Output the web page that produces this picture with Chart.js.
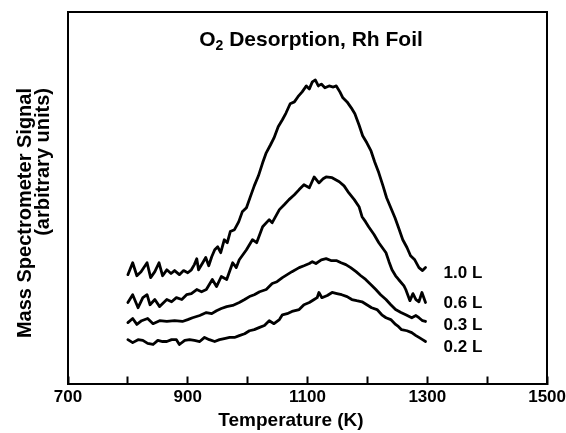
<!DOCTYPE html>
<html>
<head>
<meta charset="utf-8">
<script src="https://cdn.jsdelivr.net/npm/chart.js@4/dist/chart.umd.min.js"></script>
<style>
  html, body { margin:0; padding:0; background:#fff; }
  #wrap { width:566px; height:433px; }
</style>
</head>
<body>
<div id="wrap"><canvas id="chart" width="566" height="433"></canvas></div>
<script>
// ── Data (signal in arbitrary units 0-100) ──────────────────────────────
const temp10 = [800,808,815,822,832,838,845,852,858,865, 872,878,886,893,900,906,911,915,918,925,
                930,935,940,945,950,955,961,966,971,978, 985,991,998,1005,1011,1018,1025,1031,1038,1044,
                1051,1058,1064,1071,1078,1084,1091,1098,1103,1108, 1113,1118,1123,1129,1136,1143,1148,1154,1159,1166,
                1173,1179,1186,1192,1199,1206,1212,1219,1226,1232, 1239,1246,1252,1259,1266,1272,1279,1286,1292,1297];
const sig10  = [29.3,32.5,29.0,30.1,32.5,28.5,30.1,32.5,29.0,30.6, 29.6,30.4,29.3,30.4,29.8,30.6,32.0,33.6,30.6,32.5,
                33.9,31.7,34.1,36.0,36.8,35.2,38.7,37.9,40.9,41.4, 43.5,46.2,47.3,50.5,53.2,55.9,59.4,62.1,64.2,66.1,
                69.1,71.0,72.8,75.3,75.8,77.2,78.5,80.1,79.3,81.2, 81.7,80.1,80.6,79.6,80.1,79.8,80.1,78.5,76.9,75.8,
                74.2,72.6,69.6,66.7,64.8,62.6,59.7,56.7,53.2,50.0, 47.3,44.6,41.9,38.7,36.6,34.4,33.3,31.2,30.4,31.2];

const temp06 = [800,808,817,825,832,837,845,853,865,873, 881,890,898,906,915,923,931,941,948,956,
                965,975,981,986,998,1008,1015,1025,1036,1041, 1053,1061,1069,1078,1086,1094,1103,1111,1119,1126,
                1131,1141,1153,1161,1169,1178,1186,1191,1197,1202, 1211,1219,1231,1236,1241,1247,1252,1261,1264,1271,
                1276,1281,1286,1291,1297];
const sig06  = [21.8,23.9,20.4,23.1,23.9,21.2,22.6,20.7,22.6,22.0, 23.1,22.6,23.9,24.2,25.3,24.7,25.3,28.0,26.1,28.8,
                28.0,32.5,31.2,33.3,36.0,38.7,37.9,42.2,44.1,43.3, 46.8,48.1,49.5,50.8,52.2,53.5,52.7,55.6,54.0,55.1,
                55.6,55.4,54.3,53.2,51.3,49.5,47.6,44.9,43.5,42.2, 40.1,37.9,35.2,32.8,30.6,29.0,28.0,26.3,25.3,22.3,
                24.2,22.6,22.0,24.5,21.8];

const temp03 = [800,808,815,823,833,842,853,865,878,891, 900,908,920,931,940,948,956,965,975,986,
                995,1003,1011,1020,1031,1041,1049,1058,1066,1074, 1086,1094,1103,1108,1114,1123,1131,1139,1148,1156,
                1164,1172,1181,1189,1197,1206,1214,1222,1231,1239, 1247,1256,1264,1274,1281,1286,1292,1297];
const sig03  = [16.4,17.5,15.9,16.9,17.5,16.1,16.9,16.7,16.9,16.7, 17.2,17.7,18.3,19.1,18.8,19.6,20.2,20.7,21.0,21.8,
                22.6,23.4,23.9,24.7,25.3,26.9,27.4,28.5,29.3,30.1, 31.2,31.7,32.3,32.8,32.3,33.3,33.6,33.1,33.1,32.5,
                32.0,31.2,30.1,29.0,28.0,26.6,25.3,23.9,22.6,21.2, 19.9,19.1,18.5,17.7,18.3,17.7,16.9,16.7];

const temp02 = [800,808,817,825,833,842,850,858,865,873, 881,886,895,903,911,920,928,936,945,953,
                961,970,978,986,995,1003,1011,1020,1028,1036, 1044,1053,1058,1066,1074,1086,1094,1103,1111,1116,
                1119,1124,1133,1141,1149,1157,1166,1174,1182,1191, 1199,1207,1216,1224,1231,1239,1247,1252,1257,1266,
                1274,1281,1286,1292,1297];
const sig02  = [11.8,11.0,11.8,11.6,10.8,10.5,11.6,11.3,11.3,11.8, 11.8,10.5,11.6,11.8,11.6,11.3,12.4,11.8,11.3,11.8,
                12.1,12.4,12.4,12.9,13.4,14.2,14.5,15.1,15.6,16.9, 16.1,17.2,18.5,18.8,19.4,19.9,21.2,21.8,22.6,23.1,
                24.5,23.1,23.7,24.5,24.2,23.9,23.4,22.6,22.3,22.0, 21.2,20.4,19.9,18.5,17.7,17.2,15.9,15.3,14.5,14.2,
                13.7,12.9,12.4,11.8,11.3];

const curveLabels  = ['1.0 L', '0.6 L', '0.3 L', '0.2 L'];
const labelLevels  = [29.6, 21.5, 15.6, 9.7];
const labelledTicks = [700, 900, 1100, 1300, 1500];

const FONT = '"Liberation Sans", Arial, Helvetica, sans-serif';

function pts(xs, ys) { return xs.map((x, i) => ({ x, y: ys[i] })); }

function series(xs, ys) {
    return {
        data: pts(xs, ys),
        borderColor: '#000',
        borderWidth: 2.8,
        pointRadius: 0,
        tension: 0,
        borderJoinStyle: 'round',
        borderCapStyle: 'round',
        xAxisID: 'x',
        yAxisID: 'y',
    };
}

// frame-only axis: just the border line, no ticks, no labels
function frameAxis(position) {
    return {
        type: 'linear', position, min: 0, max: 1,
        ticks: { display: false },
        grid: { display: false, drawTicks: false, tickLength: 0 },
        border: { display: true, color: '#000', width: 2 },
    };
}

// ── Text overlay: title, axis titles, exposure labels ──────────────────
const textPlugin = {
    id: 'texts',
    afterDraw(chart) {
        const { ctx, scales } = chart;
        ctx.save();
        ctx.fillStyle = '#000';
        ctx.textBaseline = 'middle';

        // title with subscript
        const big = 'bold 21px ' + FONT, small = 'bold 14px ' + FONT;
        ctx.font = big;   const wO = ctx.measureText('O').width;
        const rest = ' Desorption, Rh Foil';
        const wR = ctx.measureText(rest).width;
        ctx.font = small; const w2 = ctx.measureText('2').width;
        let x = 311 - (wO + w2 + wR) / 2;
        ctx.textAlign = 'left';
        ctx.font = big;   ctx.fillText('O', x, 40); x += wO;
        ctx.font = small; ctx.fillText('2', x, 46); x += w2;
        ctx.font = big;   ctx.fillText(rest, x, 40);

        // x title
        ctx.textAlign = 'center';
        ctx.font = 'bold 19px ' + FONT;
        ctx.fillText('Temperature (K)', 291, 421);

        // y title, two lines right-aligned (reads bottom to top)
        ctx.save();
        ctx.font = 'bold 20px ' + FONT;
        ctx.textAlign = 'right';
        ctx.translate(25, 88); ctx.rotate(-Math.PI / 2);
        ctx.fillText('Mass Spectrometer Signal', 0, 0);
        ctx.fillText('(arbitrary units)', 0, 18);
        ctx.restore();

        // curve labels
        ctx.textAlign = 'left';
        ctx.font = 'bold 17px ' + FONT;
        const lx = scales.x.getPixelForValue(1297) + 18;
        curveLabels.forEach((t, i) => ctx.fillText(t, lx, scales.y.getPixelForValue(labelLevels[i])));
        ctx.restore();
    }
};

new Chart(document.getElementById('chart'), {
    type: 'line',
    data: {
        datasets: [
            series(temp10, sig10),
            series(temp06, sig06),
            series(temp03, sig03),
            series(temp02, sig02),
        ]
    },
    options: {
        responsive: false,
        animation: false,
        events: [],
        layout: { padding: { left: 68, right: 0, top: 12, bottom: 14 } },
        plugins: { legend: { display: false }, tooltip: { enabled: false } },
        scales: {
            x: {
                type: 'linear', position: 'bottom', min: 700, max: 1500,
                ticks: {
                    stepSize: 100, autoSkip: false, maxRotation: 0, padding: 0, color: '#000',
                    // tall line box pushes labels below the inward tick marks
                    font: { family: FONT, size: 17, weight: 'bold', lineHeight: 2.5 },
                    callback: v => labelledTicks.includes(v) ? String(v) : '',
                },
                grid: { display: true, drawOnChartArea: false, drawTicks: true, tickLength: -7, tickWidth: 2, tickColor: '#000' },
                border: { display: true, color: '#000', width: 2 },
            },
            y: { ...frameAxis('left'), min: 0, max: 100 },
            xTop: frameAxis('top'),
            yRight: frameAxis('right'),
        }
    },
    plugins: [textPlugin]
});
</script>
</body>
</html>
